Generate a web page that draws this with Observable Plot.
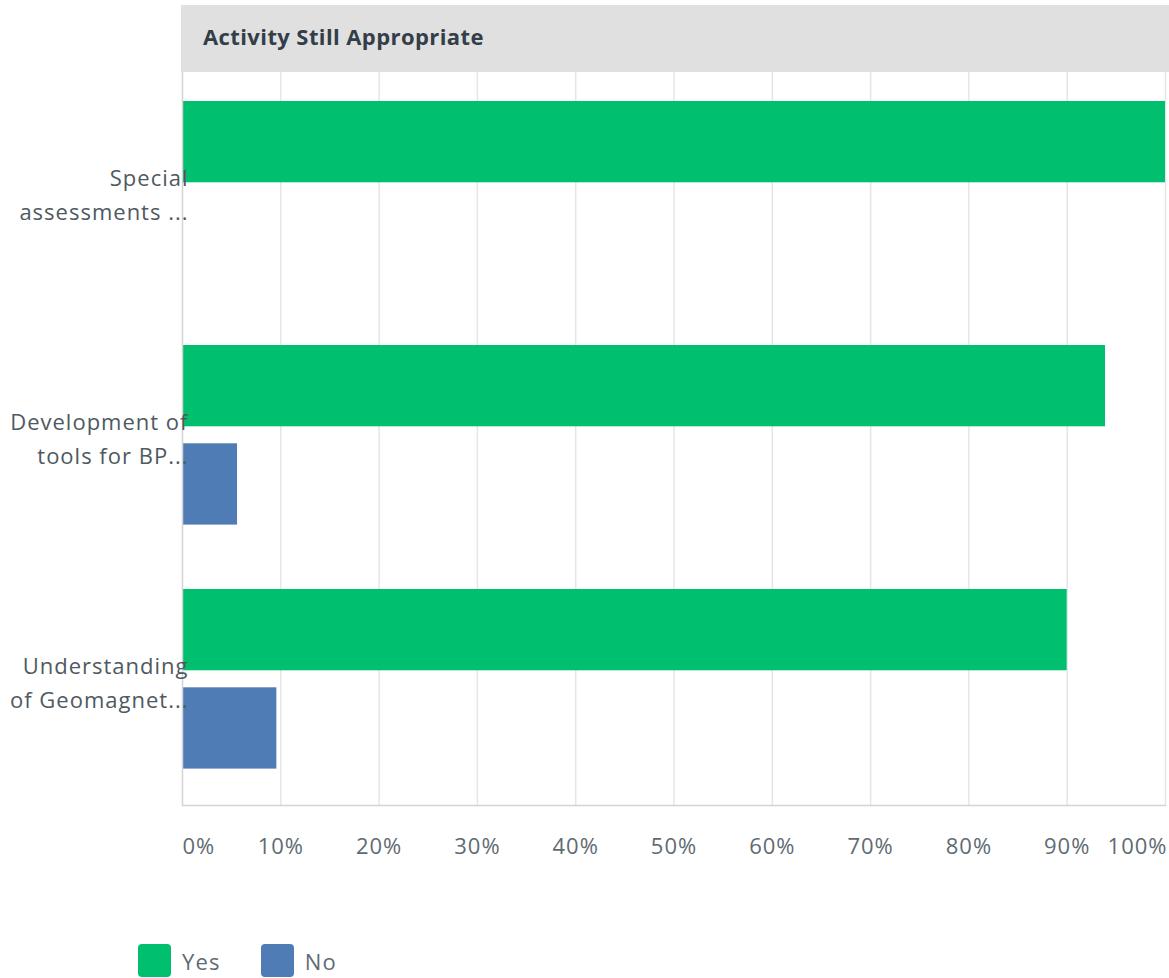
<!DOCTYPE html>
<html>
<head>
<meta charset="utf-8">
<script src="https://cdn.jsdelivr.net/npm/d3@7"></script>
<script src="https://cdn.jsdelivr.net/npm/@observablehq/plot@0.6"></script>
<style>
  html, body { margin: 0; padding: 0; background: #fff; overflow: hidden; }
  body { width: 1169px; height: 978px; font-family: "Open Sans", sans-serif; }
  #header {
    margin-top: 5px; margin-left: 181px; height: 67px; background: #e0e0e0;
    display: flex; align-items: center; padding-left: 22px; padding-bottom: 6px; box-sizing: border-box;
    font-weight: 700; font-size: 22px; letter-spacing: 0.4px; color: #333e48;
  }
  #legend { display: flex; align-items: center; margin-left: 138px; margin-top: 79px; }
  .item { display: flex; align-items: center; margin-right: 40px; }
  .sw { width: 33px; height: 33px; border-radius: 4px; }
  .lab { margin-left: 11px; font-size: 22px; letter-spacing: 1.2px; color: #5f6b73; }
</style>
</head>
<body>
<div id="header">Activity Still Appropriate</div>
<div id="chart"></div>
<div id="legend"></div>
<script>
const title = "Activity Still Appropriate";
const categories = ["Special assessments ...", "Development of tools for BP...", "Understanding of Geomagnet..."];
const categoryLabels = ["Special\nassessments ...", "Development of\ntools for BP...", "Understanding\nof Geomagnet..."];
const answers = ["Yes", "No"];
const yesValues = [100, 93.9, 90];
const noValues = [0, 5.6, 9.6];
const answerColors = ["#00bf6f", "#507cb6"];
const xTicks = [0, 10, 20, 30, 40, 50, 60, 70, 80, 90, 100];

const yesData = categories.map((c, i) => ({category: c, answer: "Yes", value: yesValues[i]}));
const noData = categories.map((c, i) => ({category: c, answer: "No", value: noValues[i]}));
const labelOf = new Map(categories.map((c, i) => [c, categoryLabels[i]]));

const font = "'Open Sans', sans-serif";
const tickStyle = {anchor: "bottom", tickSize: 0, tickPadding: 33, tickFormat: d => d + "%", fill: "#5f6b73", fontSize: 22, label: null};
const plot = Plot.plot({
  width: 1169,
  height: 793,
  marginTop: 0,
  marginBottom: 60,
  marginLeft: 182,
  marginRight: 4,
  style: {fontFamily: font, fontSize: "22px", background: "transparent", letterSpacing: "1px"},
  x: {domain: [0, 100], axis: null},
  y: {domain: categories, padding: 0, axis: null},
  color: {domain: answers, range: answerColors},
  marks: [
    Plot.gridX(xTicks.slice(1), {stroke: "#e6e6e6", strokeOpacity: 1, strokeWidth: 1.5}),
    Plot.barX(yesData, {x: "value", y: "category", fill: "answer", insetTop: 28, insetBottom: 134.7}),
    Plot.barX(noData.filter(d => d.value > 0), {x: "value", y: "category", fill: "answer", insetTop: 126.3, insetBottom: 36.4}),
    Plot.ruleX([0], {stroke: "#d3d3d3", strokeWidth: 1.5}),
    Plot.frame({anchor: "bottom", stroke: "#d3d3d3", strokeWidth: 1.5}),
    Plot.axisY({anchor: "left", tickSize: 0, tickPadding: -6, dy: -3, tickFormat: d => labelOf.get(d), lineHeight: 1.53, fill: "#4f5961", fontSize: 22, label: null}),
    Plot.axisX(xTicks.slice(1, -1), tickStyle),
    Plot.axisX([xTicks[0]], {...tickStyle, textAnchor: "start"}),
    Plot.axisX([xTicks[xTicks.length - 1]], {...tickStyle, textAnchor: "end", dx: 2})
  ]
});
document.getElementById("chart").appendChild(plot);

const legend = document.getElementById("legend");
answers.forEach((a, i) => {
  const item = document.createElement("div");
  item.className = "item";
  item.innerHTML = `<div class="sw" style="background:${answerColors[i]}"></div><span class="lab">${a}</span>`;
  legend.appendChild(item);
});
</script>
</body>
</html>
